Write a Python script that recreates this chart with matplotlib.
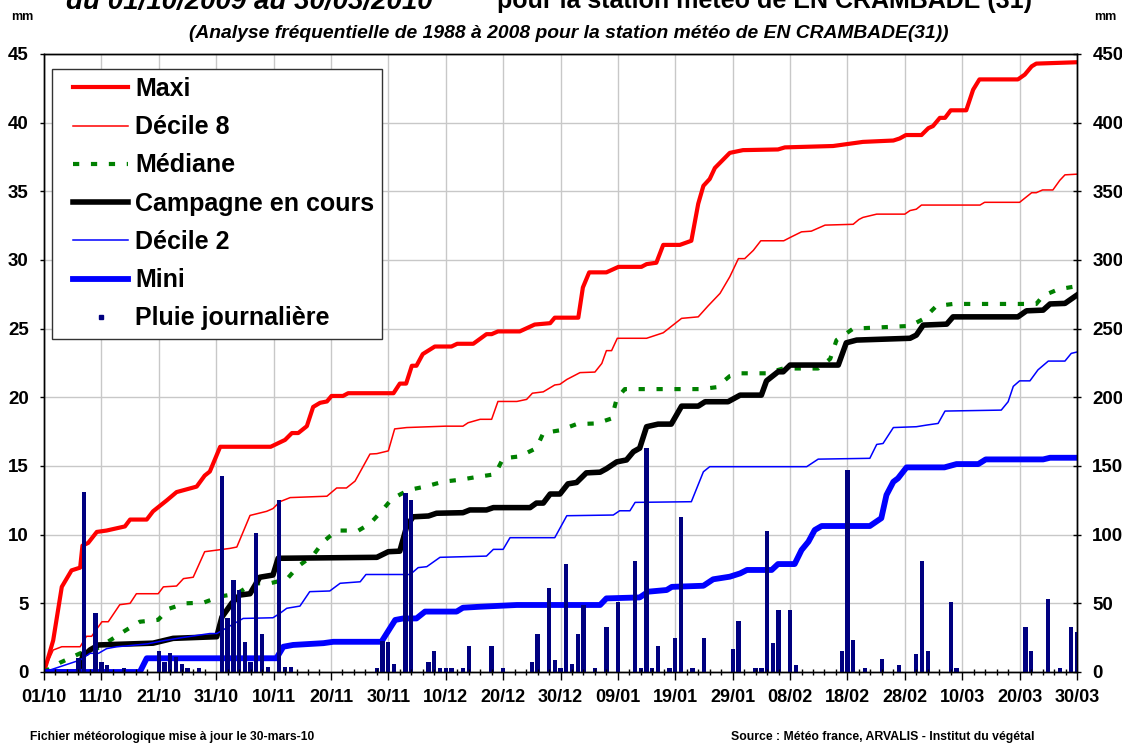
import matplotlib
matplotlib.use("Agg")
import matplotlib.pyplot as plt
from matplotlib.lines import Line2D
from matplotlib.legend_handler import HandlerLine2D
from matplotlib.ticker import MultipleLocator

plt.rcParams['font.family'] = ['Liberation Sans', 'DejaVu Sans']
plt.rcParams['font.weight'] = 'bold'

# x = jours depuis le 01/10/2009
date_labels = ["01/10", "11/10", "21/10", "31/10", "10/11", "20/11", "30/11", "10/12",
               "20/12", "30/12", "09/01", "19/01", "29/01", "08/02", "18/02", "28/02",
               "10/03", "20/03", "30/03"]
date_ticks = list(range(0, 181, 10))

# cumuls (mm, axe de droite) : (jour, valeur)
maxi = [(0, 0), (1.6, 23), (3.1, 62), (4.8, 74), (6.3, 76), (6.7, 92), (7.7, 94), (9.2, 102),
        (10.9, 103), (14.1, 106), (15.0, 111), (17.9, 111), (19.0, 117), (21.4, 125), (23.1, 131),
        (26.6, 135), (28.0, 143), (28.9, 146), (30.7, 164), (39.5, 164), (42.0, 169), (43.2, 174),
        (44.3, 174), (45.8, 179), (46.9, 193), (48.1, 196), (49.3, 197), (50.1, 201), (52.1, 201),
        (53.0, 203), (60.9, 203), (62.0, 210), (63.1, 210), (64.1, 223), (64.9, 223), (66.0, 231.5),
        (68.1, 237), (71.0, 237), (72.0, 239), (74.8, 239), (77.1, 246), (78.0, 246), (79.1, 248),
        (82.9, 248), (85.5, 253), (88.2, 254), (89.0, 258), (93.1, 258), (93.9, 280), (95.0, 291),
        (98.0, 291), (100.1, 295), (104.1, 295), (105.0, 297), (106.7, 298), (107.9, 311),
        (110.8, 311), (112.8, 314), (114.0, 341), (114.9, 354), (116.0, 359), (116.9, 367),
        (119.5, 378), (121.8, 380), (127.9, 380.5), (129.1, 382), (137.5, 383), (142.7, 386),
        (148.0, 387), (149.1, 388.5), (150.2, 391), (152.9, 391), (154.1, 396), (154.9, 397.5),
        (156.1, 403.5), (157.0, 403.5), (158.0, 409), (160.7, 409), (161.9, 424), (163.0, 431.5),
        (169.7, 431.5), (170.9, 435), (172.1, 441), (172.9, 443), (180, 444)]

decile8 = [(0, 1), (1.6, 16), (3.1, 18.4), (6.3, 18.4), (7.4, 26), (8.3, 26), (10.1, 36.6),
           (11.2, 36.6), (13.2, 49), (15.0, 50), (16.1, 57), (19.9, 57), (20.8, 62), (23.1, 62.6),
           (24.3, 68), (26.0, 69), (28.0, 87.6), (32.4, 90), (33.6, 91), (35.9, 114), (38.8, 117),
           (39.9, 119), (41.1, 124), (42.9, 127), (49.3, 128), (51.0, 134), (52.7, 134), (54.2, 139),
           (56.8, 158.7), (58.0, 159), (60.0, 161), (61.1, 177), (63.2, 178), (69.9, 179), (73.0, 179),
           (73.9, 181.5), (76.0, 184), (78.0, 184), (79.1, 197), (82.4, 197), (84.1, 198.5),
           (85.1, 203), (87.0, 204), (89.0, 209), (89.9, 209.5), (91.1, 213), (93.4, 218),
           (96.0, 218.4), (97.2, 224.7), (98.0, 234), (98.9, 234), (99.9, 243), (105.0, 243),
           (107.9, 247), (109.6, 252.6), (111.1, 257.5), (114.0, 258.6), (115.7, 266.5),
           (117.8, 275.7), (119.5, 287.8), (121.0, 301), (122.1, 301), (123.6, 307), (124.9, 314),
           (128.9, 314), (130.3, 317), (132.0, 320.5), (133.7, 321), (136.1, 325.4), (141.0, 326),
           (142.0, 329.5), (142.7, 331), (145.1, 333.4), (150.0, 333.4), (150.9, 336), (152.0, 337),
           (152.9, 340), (163.1, 340), (163.9, 342), (170.0, 342), (172.1, 349), (172.9, 349),
           (174.0, 351), (175.8, 351), (177.0, 358), (177.9, 362), (180, 362.5)]

mediane = [(0, 0), (2.8, 6.8), (6.3, 13.6), (9.2, 17), (11.5, 23), (14.1, 30), (16.7, 36.6),
           (19.9, 38), (21.7, 46), (24.6, 50), (27.8, 50.5), (30.7, 55), (33.6, 57), (36.5, 64.6),
           (39.4, 64.6), (42.3, 67.5), (44.3, 77), (46.9, 85), (48.7, 95), (51.0, 103), (54.8, 103),
           (56.8, 108), (58.8, 117), (60.6, 126), (63.5, 132.5), (66.4, 135), (69.6, 138.6),
           (72.5, 140), (75.4, 142), (78.6, 144), (80.0, 155.6), (82.9, 157), (85.8, 163), (87.0, 174),
           (89.9, 176), (92.8, 180.5), (96.3, 181), (98.9, 184.6), (99.8, 199), (101.2, 206),
           (114.6, 206), (117.2, 207.4), (119.5, 215.5), (121.3, 217.5), (125.9, 217.5), (128.8, 221),
           (134.9, 221), (137.0, 228), (138.1, 241.7), (141.0, 250), (150.9, 252), (153.2, 257),
           (155.5, 266.5), (158.4, 268), (172.9, 268), (174.1, 274), (176.7, 278.6), (180, 281)]

campagne = [(0, 0), (5.6, 0), (6.0, 1), (6.9, 13.6), (7.4, 13.6), (8.0, 16), (9.5, 19.7), (19.0, 21),
            (22.5, 24.5), (30.1, 25.7), (31.0, 40), (32.7, 50), (34.1, 56), (35.9, 57), (37.6, 69),
            (39.9, 70.6), (40.8, 82.8), (58.0, 83.5), (60.0, 87.6), (62.0, 88), (63.2, 106),
            (64.3, 113), (67.0, 113.6), (68.4, 115.6), (73.0, 116), (74.2, 118), (77.1, 118),
            (78.3, 119.7), (84.7, 119.7), (85.8, 123), (87.0, 123), (88.2, 129.6), (89.9, 129.6),
            (91.3, 137), (92.8, 138), (94.5, 145), (96.9, 145.5), (98.0, 148), (99.8, 153),
            (101.5, 154.4), (102.7, 160.4), (103.8, 163), (105.0, 178.6), (107.0, 180.5),
            (109.3, 180.5), (111.1, 193.6), (114.0, 193.6), (115.2, 196.8), (119.2, 196.8),
            (121.3, 201.6), (125.0, 201.6), (125.9, 212), (127.9, 218.6), (128.8, 218.6),
            (130.0, 223.5), (138.4, 223.5), (139.8, 239.7), (141.6, 241.7), (150.9, 243),
            (152.0, 245.3), (153.2, 252.6), (157.3, 253.3), (158.4, 258.6), (169.7, 258.6),
            (171.2, 263), (174.1, 263.5), (175.3, 268), (177.9, 268.4), (180, 274.5)]

decile2 = [(0, 0), (6.3, 8.7), (8.0, 13.6), (9.5, 13.6), (10.9, 17), (12.7, 18.4), (14.4, 19),
           (18.0, 20.5), (21.1, 23), (24.0, 25), (28.9, 28), (30.1, 28), (34.7, 39), (39.9, 39.5),
           (41.1, 42.7), (42.3, 46.4), (44.6, 48), (46.3, 58.5), (49.8, 59), (51.6, 64.6),
           (55.1, 65.7), (56.1, 71), (63.8, 71), (65.2, 76), (66.7, 76.7), (69.0, 83.5), (77.1, 84.4),
           (78.3, 89.3), (80.0, 89.3), (81.2, 97.8), (89.0, 97.8), (91.1, 113.8), (99.2, 114.3),
           (100.3, 117.4), (102.1, 117.4), (103.0, 123.5), (112.8, 124), (114.9, 145.8),
           (116.0, 149.5), (132.9, 149.5), (134.9, 155), (143.9, 155.6), (145.1, 165.7),
           (146.2, 166.4), (148.0, 178), (152.0, 178.6), (153.8, 179.8), (155.8, 181), (157.0, 190),
           (166.8, 190.7), (168.0, 196.8), (168.9, 208), (170.0, 212), (171.8, 212), (173.2, 220),
           (175.0, 226.4), (177.9, 226.4), (179.0, 232), (180, 233)]

mini = [(0, 0), (16.7, 0), (17.9, 10), (40.5, 10), (41.7, 18.4), (43.4, 19.7), (48.7, 21),
        (50.4, 22), (58.8, 22), (61.2, 37.9), (62.6, 39), (64.9, 39), (66.4, 44), (71.9, 44),
        (73.0, 46.8), (75.9, 47.5), (82.4, 48.8), (96.9, 48.8), (98.0, 53.6), (103.8, 54.3),
        (105.3, 58.5), (108.5, 59.7), (109.4, 62), (114.9, 62.8), (116.6, 67.5), (119.5, 69.4),
        (121.3, 71.8), (122.5, 74.3), (126.8, 74.3), (127.9, 78.6), (130.8, 78.6), (132.0, 88.8),
        (133.2, 94.9), (134.3, 103.4), (135.5, 106.3), (143.9, 106.3), (145.9, 112), (146.8, 128.9),
        (148.0, 138.5), (148.8, 141), (150.3, 149), (156.9, 149), (159.0, 151.4), (162.8, 151.4),
        (164.1, 154.8), (174.1, 154.8), (175.3, 156), (180, 156)]

# pluie journaliere (mm, axe de gauche)
rain_days = [6, 7, 9, 10, 11, 14, 20, 21, 22, 23, 24, 25, 27, 31, 32, 33, 34, 35, 36, 37, 38, 39,
             41, 42, 43, 58, 59, 60, 61, 63, 64, 67, 68, 69, 70, 71, 73, 74, 78, 80, 85, 86, 88,
             89, 90, 91, 92, 93, 94, 96, 98, 100, 103, 104, 105, 106, 107, 109, 110, 111, 113,
             115, 120, 121, 124, 125, 126, 127, 128, 130, 131, 139, 140, 141, 143, 146, 149, 152,
             153, 154, 158, 159, 171, 172, 175, 177, 179, 180]
rain_mm = [1.0, 13.1, 4.3, 0.75, 0.5, 0.3, 1.55, 0.75, 1.35, 1.1, 0.6, 0.3, 0.3, 14.3, 3.9, 6.7,
           6.0, 2.2, 0.7, 10.1, 2.8, 0.35, 12.5, 0.35, 0.35, 0.3, 2.25, 2.2, 0.55, 13.0, 12.5,
           0.75, 1.55, 0.3, 0.3, 0.3, 0.3, 1.9, 1.9, 0.3, 0.75, 2.75, 6.1, 0.9, 0.3, 7.9, 0.55,
           2.75, 4.9, 0.3, 3.3, 5.1, 8.1, 0.3, 16.3, 0.3, 1.9, 0.3, 2.5, 11.3, 0.3, 2.5, 1.7, 3.7,
           0.27, 0.27, 10.3, 2.1, 4.5, 4.5, 0.5, 1.5, 14.7, 2.3, 0.3, 0.95, 0.5, 1.3, 8.1, 1.5,
           5.1, 0.3, 3.3, 1.5, 5.3, 0.3, 3.3, 2.9]

labels = ["Maxi", "Décile 8", "Médiane", "Campagne en cours", "Décile 2", "Mini",
          "Pluie journalière"]


def xy(serie):
    return [p[0] for p in serie], [p[1] for p in serie]


fig = plt.figure(figsize=(11.22, 7.45), dpi=100)
ax = fig.add_axes([44 / 1122, 73 / 745, 1033 / 1122, 618 / 745])
ax2 = ax.twinx()
ax.set_zorder(ax2.get_zorder() + 1)
ax.patch.set_visible(False)

# grille sur l'axe du dessous
ax2.xaxis.set_visible(True)
ax2.grid(True, color='#c8c8c8', lw=1)
ax2.tick_params(axis='x', which='both', bottom=False, top=False, labelbottom=False, labeltop=False)

styles = [dict(color='#ff0000', lw=3),
          dict(color='#ff0000', lw=1.1),
          dict(color='#008000', lw=3, dashes=(1.5, 2.8)),
          dict(color='black', lw=4),
          dict(color='#0000ff', lw=1.1),
          dict(color='#0000ff', lw=4.2)]
for serie, st in zip([maxi, decile8, mediane, campagne, decile2, mini], styles):
    ax2.plot(*xy(serie), **st)

ax.bar(rain_days, rain_mm, width=0.75, color='#000080')

ax.set_xlim(0, 180)
ax.set_ylim(0, 45)
ax2.set_ylim(0, 450)
ax.set_xticks(date_ticks)
ax.set_xticklabels(date_labels)
ax.xaxis.set_minor_locator(MultipleLocator(2))
ax.set_yticks(range(0, 46, 5))
ax2.set_yticks(range(0, 451, 50))

ax.tick_params(axis='x', which='major', direction='out', length=6, width=1, pad=6, labelsize=13)
ax.tick_params(axis='x', which='minor', direction='inout', length=4, width=1)
ax.tick_params(axis='y', direction='out', length=3, width=1, pad=8, labelsize=13.5)
ax2.tick_params(axis='y', direction='inout', length=6, width=1, pad=8, labelsize=13.5)
for a in (ax, ax2):
    for s in a.spines.values():
        s.set_color('black')
        s.set_linewidth(1)

handles = [Line2D([], [], **st) for st in styles]
handles.append(Line2D([], [], ls='none', marker='s', ms=3.5, color='#000080'))
leg = ax.legend(handles, labels, loc='upper left',
                bbox_to_anchor=((52 - 44) / 1033, (672 - 69) / 618), borderaxespad=0,
                fontsize=18, frameon=True, fancybox=False, edgecolor='#333333', framealpha=1,
                borderpad=0.32, labelspacing=0.57, handlelength=2.72, handletextpad=0.28,
                handler_map={Line2D: HandlerLine2D(xpad=0.52)})
leg.get_frame().set_linewidth(1)

# titres (coupes en haut comme sur l'original)
fig.text(66 / 1122, 1 - 9 / 745, "du 01/10/2009 au 30/03/2010", fontsize=20,
         style='italic', va='baseline', ha='left')
fig.text(497 / 1122, 1 - 8 / 745, "pour la station météo de EN CRAMBADE (31)", fontsize=18,
         va='baseline', ha='left')
fig.text(569 / 1122, 1 - 34 / 745,
         "(Analyse fréquentielle de 1988 à 2008 pour la station météo de EN CRAMBADE(31))",
         fontsize=13.9, style='italic', ha='center', va='center')
fig.text(22 / 1122, 1 - 17 / 745, "mm", fontsize=9, ha='center', va='center')
fig.text(1105 / 1122, 1 - 17 / 745, "mm", fontsize=9, ha='center', va='center')

fig.text(30 / 1122, 1 - 737 / 745, "Fichier météorologique mise à jour le 30-mars-10",
         fontsize=8.7, ha='left', va='center')
fig.text(731 / 1122, 1 - 737 / 745, "Source : Météo france, ARVALIS - Institut du végétal",
         fontsize=8.8, ha='left', va='center')

fig.savefig("out.png", dpi=100)
